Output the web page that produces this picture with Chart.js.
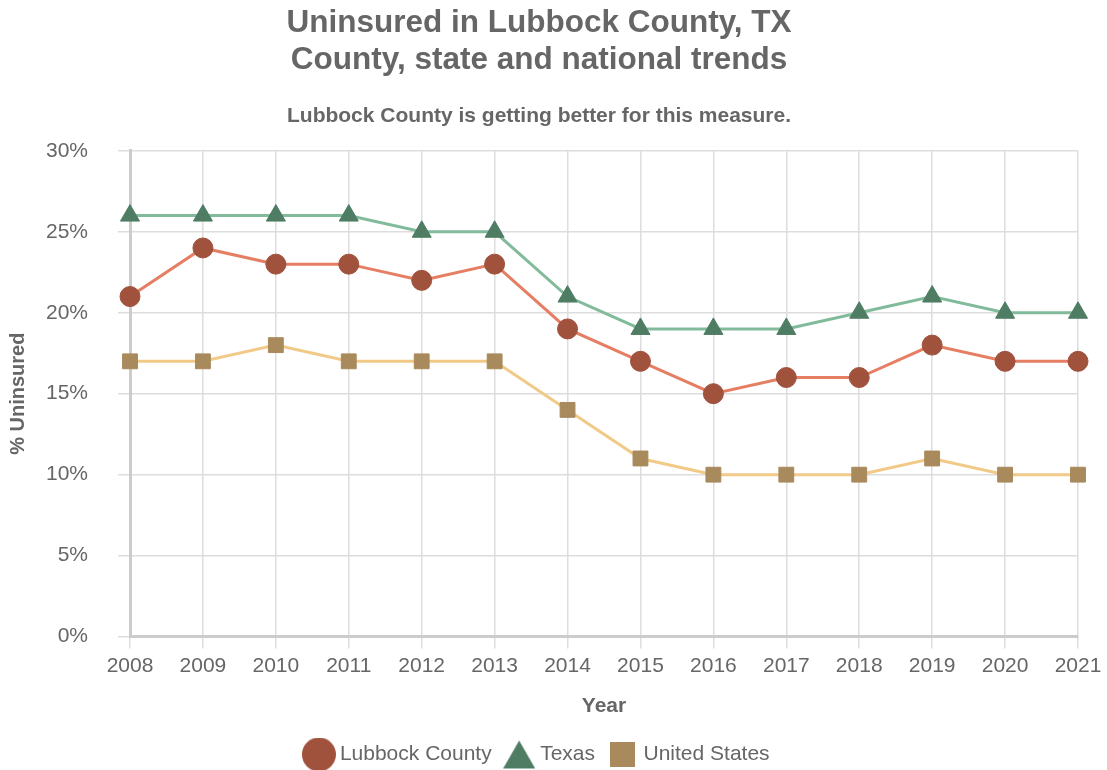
<!DOCTYPE html>
<html>
<head>
<meta charset="utf-8">
<script src="https://cdn.jsdelivr.net/npm/chart.js@4"></script>
<style>
  html, body { margin: 0; padding: 0; background: #fff; }
  #wrap { width: 1107px; height: 770px; position: relative; }
</style>
</head>
<body>
<div id="wrap"><canvas id="c"></canvas></div>
<script>
const years = ['2008','2009','2010','2011','2012','2013','2014','2015','2016','2017','2018','2019','2020','2021'];
const lubbock = [21, 24, 23, 23, 22, 23, 19, 17, 15, 16, 16, 18, 17, 17];
const texas = [26, 26, 26, 26, 25, 25, 21, 19, 19, 19, 20, 21, 20, 20];
const unitedStates = [17, 17, 18, 17, 17, 17, 14, 11, 10, 10, 10, 11, 10, 10];
const yTicks = [0, 5, 10, 15, 20, 25, 30];

const FONT = '"Liberation Sans", Arial, Helvetica, sans-serif';
const GREY = '#666666';

const COLORS = {
  lubbock: { line: '#e57e62', mark: '#a0523d' },
  texas: { line: '#82bb9c', mark: '#4f7d64' },
  us: { line: '#f2ca88', mark: '#a88a5c' }
};

Chart.defaults.font.family = FONT;
Chart.defaults.color = GREY;

// Larger legend markers, drawn once onto small canvases
function legendMarker(shape, color) {
  const c = document.createElement('canvas');
  const s = shape === 'circle' ? 34 : shape === 'triangle' ? 32 : 25;
  c.width = s; c.height = s;
  const g = c.getContext('2d');
  g.fillStyle = color;
  g.beginPath();
  if (shape === 'circle') {
    g.arc(s / 2, s / 2, s / 2, 0, Math.PI * 2);
  } else if (shape === 'triangle') {
    g.moveTo(s / 2, 2);
    g.lineTo(s, s - 2);
    g.lineTo(0, s - 2);
    g.closePath();
  } else {
    g.rect(0, 0, s, s);
  }
  g.fill();
  return c;
}
const legendMarkers = [
  legendMarker('circle', COLORS.lubbock.mark),
  legendMarker('triangle', COLORS.texas.mark),
  legendMarker('rect', COLORS.us.mark)
];

new Chart(document.getElementById('c'), {
  type: 'line',
  data: {
    labels: years,
    datasets: [
      {
        label: 'Lubbock County',
        data: lubbock,
        borderColor: COLORS.lubbock.line,
        backgroundColor: COLORS.lubbock.mark,
        pointBackgroundColor: COLORS.lubbock.mark,
        pointBorderColor: COLORS.lubbock.mark,
        pointBorderWidth: 1,
        pointStyle: 'circle',
        pointRadius: 10,
        pointHoverRadius: 10,
        borderWidth: 3,
        tension: 0
      },
      {
        label: 'Texas',
        data: texas,
        borderColor: COLORS.texas.line,
        backgroundColor: COLORS.texas.mark,
        pointBackgroundColor: COLORS.texas.mark,
        pointBorderColor: COLORS.texas.mark,
        pointBorderWidth: 1,
        pointStyle: 'triangle',
        pointRadius: 11,
        pointHoverRadius: 11,
        borderWidth: 3,
        tension: 0
      },
      {
        label: 'United States',
        data: unitedStates,
        borderColor: COLORS.us.line,
        backgroundColor: COLORS.us.mark,
        pointBackgroundColor: COLORS.us.mark,
        pointBorderColor: COLORS.us.mark,
        pointBorderWidth: 1,
        pointStyle: 'rect',
        pointRadius: 10.5,
        pointHoverRadius: 10.5,
        borderWidth: 3,
        tension: 0
      }
    ]
  },
  options: {
    responsive: true,
    maintainAspectRatio: false,
    animation: false,
    layout: { padding: { left: 0, right: 29, top: 0, bottom: -5 } },
    plugins: {
      title: {
        display: true,
        text: ['Uninsured in Lubbock County, TX', 'County, state and national trends'],
        font: { size: 31.5, weight: 'bold', family: FONT, lineHeight: 1.2 },
        color: GREY,
        padding: { top: 4, bottom: 11 }
      },
      subtitle: {
        display: true,
        text: 'Lubbock County is getting better for this measure.',
        font: { size: 21, weight: 'bold', family: FONT, lineHeight: 1.2 },
        color: GREY,
        padding: { top: 13, bottom: 22 }
      },
      legend: {
        position: 'bottom',
        labels: {
          usePointStyle: true,
          boxWidth: 21,
          boxHeight: 21,
          font: { size: 21, family: FONT },
          color: GREY,
          padding: 17,
          generateLabels: (chart) => {
            const items = Chart.defaults.plugins.legend.labels.generateLabels(chart);
            items.forEach((it, i) => { it.pointStyle = legendMarkers[i]; });
            return items;
          }
        }
      },
      tooltip: { enabled: false }
    },
    scales: {
      x: {
        offset: false,
        grid: { color: '#dddddd', lineWidth: 1.5, tickLength: 12, drawTicks: true },
        border: { color: '#cccccc', width: 3 },
        ticks: { font: { size: 21, family: FONT }, color: GREY, padding: 5, maxRotation: 0 },
        title: {
          display: true,
          text: 'Year',
          font: { size: 21, weight: 'bold', family: FONT },
          color: GREY,
          padding: { top: 10, bottom: 8 }
        }
      },
      y: {
        min: 0,
        max: 30,
        afterBuildTicks: (axis) => { axis.ticks = yTicks.map(v => ({ value: v })); },
        afterFit: (axis) => { axis.width = 130; },
        grid: { color: '#dddddd', lineWidth: 1.5, tickLength: 12 },
        border: { color: '#cccccc', width: 3 },
        ticks: {
          font: { size: 21, family: FONT },
          color: GREY,
          padding: 30,
          callback: (v) => v + '%'
        },
        title: {
          display: true,
          text: '% Uninsured',
          font: { size: 20, weight: 'bold', family: FONT },
          color: GREY,
          padding: { top: 6, bottom: 4 }
        }
      }
    }
  }
});
</script>
</body>
</html>
